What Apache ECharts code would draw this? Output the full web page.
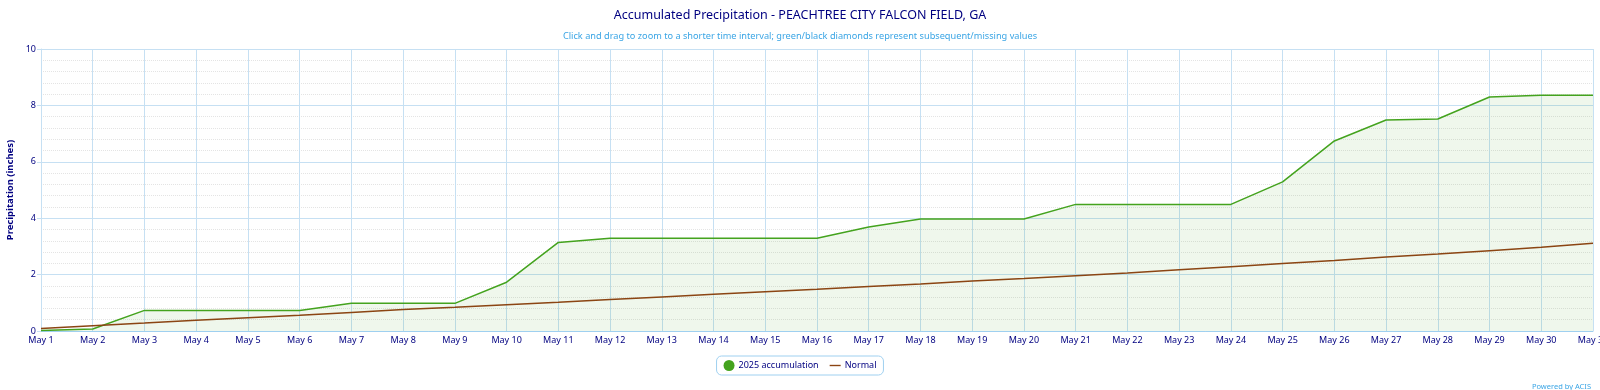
<!DOCTYPE html>
<html><head><meta charset="utf-8">
<script src="https://cdn.jsdelivr.net/npm/echarts@6/dist/echarts.min.js"></script>
<style>html,body{margin:0;padding:0;background:#fff}#c{width:1600px;height:390px}</style>
</head><body><div id="c"></div>
<script>
const categories = ["May 1","May 2","May 3","May 4","May 5","May 6","May 7","May 8","May 9","May 10","May 11","May 12","May 13","May 14","May 15","May 16","May 17","May 18","May 19","May 20","May 21","May 22","May 23","May 24","May 25","May 26","May 27","May 28","May 29","May 30","May 31"];
const accum2025 = [0.02,0.07,0.73,0.73,0.73,0.73,0.98,0.98,0.98,1.73,3.14,3.29,3.29,3.29,3.29,3.29,3.69,3.97,3.97,3.97,4.49,4.49,4.49,4.49,5.29,6.74,7.48,7.52,8.30,8.36,8.36];
const normal = [0.09,0.19,0.28,0.38,0.47,0.56,0.66,0.76,0.84,0.93,1.02,1.12,1.21,1.30,1.39,1.48,1.58,1.67,1.77,1.86,1.96,2.06,2.17,2.28,2.39,2.50,2.62,2.73,2.85,2.97,3.11];
const yTicks = [0,2,4,6,8,10];

const FONT = '"Noto Sans", "DejaVu Sans", sans-serif';
const chart = echarts.init(document.getElementById('c'), null, {renderer:'canvas'});
chart.setOption({
  animation:false,
  textStyle:{fontFamily:FONT},
  title:[
    {text:'Accumulated Precipitation - PEACHTREE CITY FALCON FIELD, GA', left:'center', top:4,
     textStyle:{color:'#000080', fontSize:12.5, fontWeight:'normal', fontFamily:FONT}},
    {text:'Click and drag to zoom to a shorter time interval; green/black diamonds represent subsequent/missing values', left:'center', top:27,
     textStyle:{color:'#3aa5e5', fontSize:9.2, fontWeight:'normal', fontFamily:FONT}},
    {text:'Powered by ACIS', right:4, top:378,
     textStyle:{color:'#3aa5e5', fontSize:7.5, fontWeight:'normal', fontFamily:FONT}}
  ],
  grid:{left:41, right:7, top:49, bottom:59, containLabel:false, outerBoundsMode:'none'},
  legend:{
    bottom:15, left:'center',
    data:[{name:'2025 accumulation', icon:'circle'},{name:'Normal', icon:'path://M0,0 L20,0 L20,2.5 L0,2.5 Z'}],
    itemWidth:11, itemHeight:11, itemGap:11,
    borderColor:'#9fd0f0', borderWidth:1, borderRadius:5, padding:[4,7],
    textStyle:{color:'#000080', fontSize:9, fontFamily:FONT, padding:[0,0,0,-1]}
  },
  xAxis:{
    type:'category', data:categories, boundaryGap:false,
    axisLine:{show:true, lineStyle:{color:'#9fd0f0', width:1}},
    axisTick:{show:false},
    axisLabel:{color:'#000080', fontSize:9, interval:0, margin:5, fontFamily:FONT},
    splitLine:{show:true, lineStyle:{color:'#c6e0f3', width:1}}
  },
  yAxis:{
    type:'value', min:yTicks[0], max:yTicks[yTicks.length-1], interval:2,
    name:'Precipitation (inches)', nameLocation:'middle', nameGap:13,
    nameTextStyle:{color:'#000080', fontSize:9.5, fontWeight:'bold', fontFamily:FONT},
    axisLine:{show:true, lineStyle:{color:'#c6e0f3'}},
    axisTick:{show:true, length:4, lineStyle:{color:'#c6e0f3'}},
    axisLabel:{color:'#000080', fontSize:9, margin:5, fontFamily:FONT},
    splitLine:{show:true, lineStyle:{color:'#c6e0f3', width:1}},
    minorTick:{show:false, splitNumber:5},
    minorSplitLine:{show:true, lineStyle:{color:'#e4e4e4', type:'dotted', width:1}}
  },
  series:[
    {name:'2025 accumulation', type:'line', data:accum2025, symbol:'none',
     itemStyle:{color:'#44a31e'},
     lineStyle:{color:'#44a31e', width:1.5},
     areaStyle:{color:'rgba(68,163,30,0.12)'}},
    {name:'Normal', type:'line', data:normal, symbol:'none',
     itemStyle:{color:'#8b4513'},
     lineStyle:{color:'#8b4513', width:1.5}}
  ]
});
</script></body></html>
